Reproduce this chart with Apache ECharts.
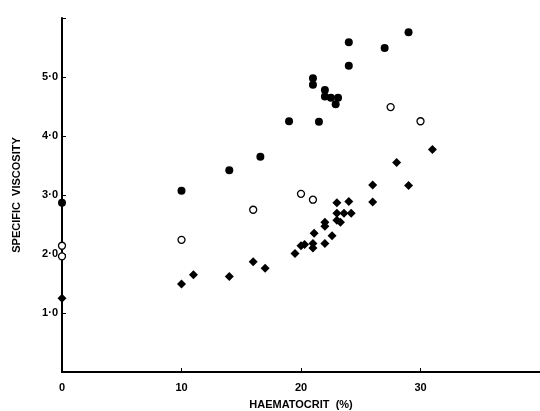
<!DOCTYPE html>
<html>
<head>
<meta charset="utf-8">
<script src="https://cdn.jsdelivr.net/npm/echarts@6/dist/echarts.min.js"></script>
<style>
  html, body { margin: 0; padding: 0; background: #fff; }
  #chart { width: 540px; height: 411px; }
</style>
</head>
<body>
<div id="chart"></div>
<script>
// [haematocrit %, specific viscosity]
const filledCircles = [
  [0, 2.87], [10, 3.07], [14, 3.42], [16.6, 3.65], [19, 4.25], [21.5, 4.24],
  [21, 4.98], [21, 4.87], [22, 4.78], [22, 4.67], [22.5, 4.65], [23.1, 4.65],
  [22.9, 4.54], [24, 5.59], [24, 5.19], [27, 5.49], [29, 5.76]
]
const openCircles = [
  [0, 2.14], [0, 1.96], [10, 2.24], [16, 2.75], [20, 3.02], [21, 2.92],
  [27.5, 4.49], [30, 4.25]
]
const diamonds = [
  [0, 1.25], [10, 1.49], [11, 1.65], [14, 1.62], [16, 1.87], [17, 1.76],
  [19.5, 2.01], [20, 2.14], [20.3, 2.16], [21, 2.18], [21, 2.1], [21.1, 2.35],
  [22, 2.18], [22, 2.54], [22, 2.47], [22.6, 2.31], [23, 2.87], [23, 2.69],
  [23, 2.57], [23.3, 2.54], [23.6, 2.69], [24, 2.89], [24.2, 2.69], [26, 2.88],
  [26, 3.17], [28, 3.55], [29, 3.16], [31, 3.77]
]
const xTicks = [0, 10, 20, 30]
const yTicks = [1, 2, 3, 4, 5]

const chart = echarts.init(document.getElementById('chart'))
const font = 'Liberation Sans, Arial, sans-serif'
const option = {
  animation: false,
  backgroundColor: '#fff',
  grid: { left: 62, right: 0, top: 18, bottom: 39, outerBoundsMode: 'none' },
  xAxis: {
    type: 'value',
    min: 0,
    max: 40,
    interval: 10,
    name: 'HAEMATOCRIT  (%)',
    nameLocation: 'middle',
    nameGap: 27,
    nameTextStyle: { color: '#000', fontWeight: 'bold', fontSize: 11, fontFamily: font },
    splitLine: { show: false },
    axisLine: { lineStyle: { color: '#000', width: 2 } },
    axisTick: { inside: true, length: 4, lineStyle: { color: '#000' } },
    axisLabel: {
      color: '#000', fontWeight: 'bold', fontSize: 11, fontFamily: font, margin: 10,
      formatter: (v) => (xTicks.includes(v) ? String(v) : '')
    }
  },
  yAxis: {
    type: 'value',
    min: 0,
    max: 6,
    interval: 1,
    name: 'SPECIFIC  VISCOSITY',
    nameLocation: 'middle',
    nameGap: 40,
    nameTextStyle: { color: '#000', fontWeight: 'bold', fontSize: 11, fontFamily: font },
    splitLine: { show: false },
    axisLine: { lineStyle: { color: '#000', width: 2 } },
    axisTick: { inside: true, length: 4, lineStyle: { color: '#000' } },
    axisLabel: {
      color: '#000', fontWeight: 'bold', fontSize: 11, fontFamily: font, margin: 4,
      formatter: (v) => (yTicks.includes(v) ? v.toFixed(1).replace('.', '·') : '')
    }
  },
  series: [
    {
      type: 'scatter',
      data: filledCircles,
      symbol: 'circle',
      symbolSize: 8,
      itemStyle: { color: '#000', opacity: 1 }
    },
    {
      type: 'scatter',
      data: openCircles,
      symbol: 'circle',
      symbolSize: 7,
      itemStyle: { color: '#fff', borderColor: '#000', borderWidth: 1.3, opacity: 1 }
    },
    {
      type: 'scatter',
      data: diamonds,
      symbol: 'diamond',
      symbolSize: 9,
      itemStyle: { color: '#000', opacity: 1 }
    }
  ]
}
chart.setOption(option)
</script>
</body>
</html>
